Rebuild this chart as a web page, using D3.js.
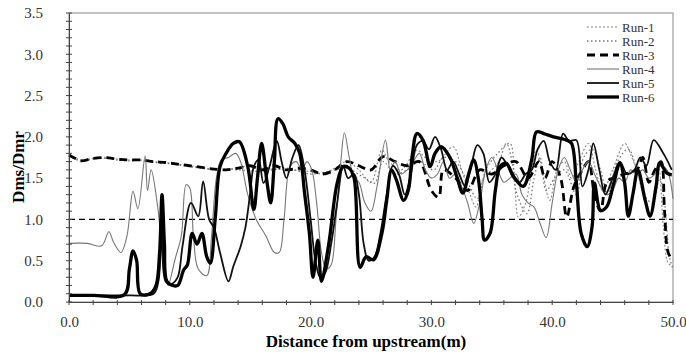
<!DOCTYPE html>
<html>
<head>
<meta charset="utf-8">
<script src="https://cdn.jsdelivr.net/npm/d3@7"></script>
<style>
  body { margin: 0; background: #fff; }
  svg { display: block; font-family: 'Liberation Serif', 'Times New Roman', serif; }
</style>
</head>
<body>
<svg id="chart" width="686" height="357"></svg>
<script>
// series: [distance (m), Dms/Dmr]
const run1 = [[0,1.77],[0.5,1.73],[1,1.71],[2,1.74],[3,1.74],[4,1.73],[5,1.72],[6,1.71],[7,1.7],[8,1.69],[9,1.67],[10,1.65],[11,1.63],[12,1.61],[13,1.6],[14,1.63],[15,1.65],[16,1.62],[18,1.6],[20,1.58],[21,1.55],[22,1.62],[23,1.7],[24,1.6],[25,1.45],[25.9,1.84],[26.5,1.7],[27.5,1.6],[28.8,1.84],[29.5,1.75],[30.5,1.7],[31.8,1.88],[32.5,1.6],[33.2,1.3],[33.7,1.15],[34.3,1.5],[35,1.6],[35.6,1.7],[36.2,1.92],[36.8,1.6],[37.2,1.03],[37.8,1.2],[38.7,1.84],[39.3,1.5],[39.8,1.23],[40.4,1.6],[41,1.7],[41.6,1.5],[42.2,1.7],[43,1.92],[43.6,1.6],[44.2,1.35],[45,1.6],[46,1.92],[46.6,1.75],[47.2,1.5],[48.1,1.03],[48.8,1.64],[49.2,0.91],[49.6,0.47],[50,0.43]]
const run2 = [[0,1.76],[0.5,1.74],[1,1.72],[2,1.73],[3,1.75],[4,1.72],[5,1.71],[6,1.72],[7,1.69],[8,1.68],[9,1.66],[10,1.64],[11,1.62],[12,1.6],[13,1.61],[14,1.6],[16,1.58],[18,1.62],[20,1.55],[22,1.6],[23,1.62],[24.5,1.5],[25.3,1.44],[26,1.7],[27,1.55],[28,1.6],[29,1.7],[30.2,1.6],[31,1.75],[32,1.7],[33,1.45],[33.8,1.25],[34.5,1.6],[35.5,1.8],[36.5,1.92],[37,1.35],[37.9,1.07],[38.5,1.5],[39,1.75],[39.5,1.35],[40.2,1.5],[41,1.6],[42,1.3],[42.6,1.75],[43.3,1.85],[44,1.6],[44.6,1.3],[45.4,1.7],[46.3,1.85],[47,1.6],[47.6,1.3],[48.3,1.2],[48.9,1.5],[49.3,1.2],[49.7,0.55],[50,0.4]]
const run3 = [[0,1.78],[0.5,1.74],[1,1.71],[2,1.74],[3,1.75],[4,1.73],[5,1.72],[6,1.72],[7,1.7],[8,1.69],[9,1.67],[10,1.65],[11,1.63],[12,1.61],[13,1.6],[14,1.62],[15,1.65],[16,1.6],[17,1.65],[18,1.6],[19,1.62],[20,1.6],[21,1.55],[22,1.6],[23,1.7],[24,1.65],[25,1.6],[26,1.76],[27,1.7],[28,1.65],[29,1.7],[30,1.35],[30.6,1.27],[31,1.6],[32,1.5],[33,1.35],[34,1.6],[35,1.55],[36,1.65],[37,1.7],[38,1.5],[38.9,1.7],[39.4,1.5],[40,1.7],[40.7,1.5],[41.2,1.03],[41.8,1.4],[42.5,1.6],[43,1.7],[43.5,1.3],[44,1.1],[44.5,1.45],[45,1.5],[46,1.55],[47,1.6],[47.5,1.75],[48,1.45],[48.5,1.6],[49,1.7],[49.3,1.1],[49.6,0.6],[50,0.5]]
const run4 = [[0,0.71],[1.5,0.71],[2.7,0.68],[3.3,0.85],[3.7,0.72],[4.3,0.6],[4.8,0.8],[5.3,1.34],[5.7,1.13],[6.3,1.77],[6.5,1.35],[6.8,1.6],[7.3,1.2],[7.6,0.8],[8.0,0.37],[8.2,0.2],[8.8,0.53],[9.3,0.8],[9.7,1.42],[10.0,1.38],[10.3,0.8],[10.7,0.4],[11.4,0.32],[11.8,0.8],[12.2,1.5],[12.6,1.72],[13.2,1.75],[13.8,1.8],[14.2,1.7],[14.8,1.3],[15.5,1.0],[16.3,0.8],[17.0,0.6],[17.4,0.6],[17.8,1.0],[18.3,1.64],[18.8,1.7],[19.3,1.6],[19.7,1.7],[20.1,1.6],[20.5,1.2],[20.9,0.6],[21.3,0.4],[21.7,0.45],[22.1,1.0],[22.5,1.7],[22.8,2.05],[23.2,1.75],[23.6,1.5],[24.0,1.45],[24.5,1.2],[25.0,1.1],[25.5,1.4],[26.2,1.96],[26.6,1.6],[27.0,1.7],[27.5,1.55],[28.0,1.6],[28.5,1.7],[29.0,1.8],[29.5,1.6],[30.0,1.5],[30.5,1.55],[31,1.7],[31.5,1.5],[32,1.55],[32.5,1.4],[33.0,1.2],[33.5,0.95],[34.0,1.2],[34.5,1.6],[35.0,1.75],[35.5,1.6],[36.0,1.45],[36.5,1.5],[37,1.55],[37.5,1.3],[38,1.2],[38.5,1.15],[39.0,0.95],[39.5,0.78],[40.0,1.2],[40.5,1.6],[41.0,1.75],[41.5,1.6],[42.0,1.45],[42.5,1.6],[43,1.7],[43.5,1.55],[44,1.4],[44.5,1.3],[45,1.35],[45.5,1.5],[46,1.45],[46.5,1.6],[47,1.55],[47.5,1.6],[48,1.5],[48.5,1.55],[49,1.65],[49.5,1.6],[50,1.25]]
const run5 = [[0,0.08],[3,0.08],[5,0.08],[7,0.1],[7.4,0.25],[7.7,1.15],[8.0,0.25],[8.5,0.22],[9.0,0.3],[9.4,0.68],[10.1,1.2],[10.7,1.04],[11.1,1.46],[11.6,1.0],[12.0,0.9],[12.5,0.6],[13.2,0.25],[13.6,0.43],[14.2,0.67],[14.6,0.9],[15.0,1.32],[15.3,1.64],[15.7,1.72],[16.1,1.44],[16.6,1.64],[17.2,1.95],[17.6,1.7],[18.0,1.5],[18.5,1.75],[19,1.9],[19.5,1.6],[20.0,1.0],[20.4,0.5],[20.8,0.3],[21.2,0.35],[21.7,0.7],[22.2,1.2],[22.7,1.65],[23.1,1.5],[23.6,1.55],[24.0,1.3],[24.4,0.7],[24.8,0.5],[25.3,0.55],[25.8,0.85],[26.3,1.3],[26.8,1.65],[27.3,1.55],[27.8,1.3],[28.3,1.55],[28.8,1.9],[29.3,1.95],[29.8,1.85],[30.3,2.0],[30.8,1.85],[31.3,1.6],[31.8,1.7],[32.3,1.55],[32.8,1.4],[33.3,1.65],[33.8,1.9],[34.3,1.8],[34.8,1.45],[35.3,1.55],[35.8,1.75],[36.3,1.65],[36.8,1.5],[37.3,1.45],[37.8,1.55],[38.3,1.6],[38.8,1.85],[39.3,1.95],[39.8,1.7],[40.3,1.6],[40.9,2.04],[41.4,1.95],[42.0,1.96],[42.5,1.4],[43.0,1.6],[43.4,1.92],[43.9,1.6],[44.4,1.3],[45.0,1.5],[45.6,1.7],[46.2,1.55],[46.8,1.6],[47.3,1.75],[47.8,1.65],[48.4,1.96],[49.2,1.8],[49.9,1.6]]
const run6 = [[0,0.08],[2,0.08],[4.6,0.09],[5.0,0.4],[5.3,0.62],[5.6,0.5],[5.9,0.1],[6.7,0.1],[7.2,0.2],[7.5,0.6],[7.7,1.3],[7.9,0.7],[8.1,0.25],[8.6,0.2],[9.0,0.2],[9.5,0.39],[9.8,0.45],[10.2,0.83],[10.6,0.7],[11.0,0.83],[11.4,0.55],[11.7,0.47],[12.1,1.0],[12.5,1.64],[13.0,1.8],[13.6,1.92],[14.1,1.94],[14.8,1.64],[15.3,1.12],[15.6,1.5],[15.95,1.92],[16.4,1.44],[16.7,1.2],[17.0,1.7],[17.3,2.22],[17.7,2.16],[18.15,2.0],[18.7,1.92],[19.1,1.8],[19.5,1.32],[19.9,0.83],[20.2,0.3],[20.6,0.75],[20.9,0.25],[21.5,0.7],[22.2,1.44],[22.7,1.64],[23.2,1.62],[23.6,1.5],[24.1,0.42],[24.6,0.55],[25.2,0.51],[25.9,0.83],[26.3,1.23],[26.7,1.6],[27.1,1.48],[27.7,1.23],[28.1,1.36],[28.4,1.76],[28.8,2.04],[29.3,1.96],[29.9,1.64],[30.3,1.8],[30.8,1.88],[31.5,1.76],[32.1,1.52],[32.6,1.32],[33.1,1.56],[33.5,1.72],[33.9,1.48],[34.2,1.0],[34.4,0.75],[34.85,0.83],[35.3,1.36],[35.7,1.64],[36.2,1.68],[36.8,1.52],[37.6,1.4],[38.3,1.72],[38.7,2.06],[39.3,2.04],[40.1,2.0],[41.2,1.96],[41.6,1.92],[42.0,1.44],[42.4,0.83],[42.9,0.67],[43.3,0.91],[43.5,1.44],[44.0,1.11],[44.5,1.15],[45.1,1.44],[45.6,1.68],[46.0,1.44],[46.3,1.04],[46.7,1.32],[47.1,1.6],[47.7,1.23],[48.1,1.04],[48.6,1.4],[48.9,1.68],[49.5,1.56],[49.9,1.54]]

const runNames = ['Run-1', 'Run-2', 'Run-3', 'Run-4', 'Run-5', 'Run-6']
const xTicks = [0, 10, 20, 30, 40, 50]
const yTicks = [0, 0.5, 1.0, 1.5, 2.0, 2.5, 3.0, 3.5]
const refValue = 1.0

// line styles for each run
const styles = [
	{ data: run1, stroke: '#888', width: 1.1, dash: '2,2' },
	{ data: run2, stroke: '#777', width: 1.3, dash: '1.5,2.5' },
	{ data: run3, stroke: '#000', width: 2.8, dash: '8,5' },
	{ data: run4, stroke: '#777', width: 1.1, dash: null },
	{ data: run5, stroke: '#111', width: 1.8, dash: null },
	{ data: run6, stroke: '#000', width: 3.3, dash: null }
]

const svg = d3.select('#chart')
const margin = { left: 69, right: 13, top: 13, bottom: 55 }
const width = 686 - margin.left - margin.right
const height = 357 - margin.top - margin.bottom

const x = d3.scaleLinear().domain([0, 50]).range([0, width])
const y = d3.scaleLinear().domain([0, 3.5]).range([height, 0])

const g = svg.append('g').attr('transform', `translate(${margin.left},${margin.top})`)

// plot frame
g.append('rect')
	.attr('width', width).attr('height', height)
	.attr('fill', 'none').attr('stroke', '#888').attr('stroke-width', 1)

// reference line at 1.0
g.append('line')
	.attr('x1', 0).attr('x2', width)
	.attr('y1', y(refValue)).attr('y2', y(refValue))
	.attr('stroke', '#000').attr('stroke-width', 1.2)
	.attr('stroke-dasharray', '6,4')

// draw runs (smoothed like the spreadsheet lines)
const line = d3.line().x(d => x(d[0])).y(d => y(d[1])).curve(d3.curveCatmullRom.alpha(0.5))
styles.forEach(s => {
	g.append('path')
		.datum(s.data)
		.attr('d', line)
		.attr('fill', 'none')
		.attr('stroke', s.stroke)
		.attr('stroke-width', s.width)
		.attr('stroke-linejoin', 'round')
		.attr('stroke-dasharray', s.dash)
})

// minor ticks
g.append('g').selectAll('line')
	.data(d3.range(0, 3.5001, 0.1))
	.enter().append('line')
	.attr('x1', -3).attr('x2', 3)
	.attr('y1', d => y(d)).attr('y2', d => y(d))
	.attr('stroke', '#444')
g.append('g').selectAll('line')
	.data(d3.range(0, 50.001, 2))
	.enter().append('line')
	.attr('x1', d => x(d)).attr('x2', d => x(d))
	.attr('y1', height - 2).attr('y2', height + 3)
	.attr('stroke', '#444')

// axes
const yAxis = g.append('g')
	.call(d3.axisLeft(y).tickValues(yTicks).tickFormat(d3.format('.1f')).tickSize(0).tickPadding(26))
yAxis.select('.domain').attr('stroke', '#444')
yAxis.selectAll('text').attr('font-size', 15).attr('fill', '#333').attr('font-family', 'Liberation Serif')

const xAxis = g.append('g')
	.attr('transform', `translate(0,${height})`)
	.call(d3.axisBottom(x).tickValues(xTicks).tickFormat(d3.format('.1f')).tickSize(0).tickPadding(14))
xAxis.select('.domain').attr('stroke', '#444')
xAxis.selectAll('text').attr('font-size', 15).attr('fill', '#333').attr('font-family', 'Liberation Serif')

// axis titles
svg.append('text')
	.attr('x', margin.left + width / 2 - 5).attr('y', 347)
	.attr('text-anchor', 'middle')
	.attr('font-size', 17).attr('font-weight', 'bold')
	.text('Distance from upstream(m)')

svg.append('text')
	.attr('transform', 'translate(24,167) rotate(-90)')
	.attr('text-anchor', 'middle')
	.attr('font-size', 17).attr('font-weight', 'bold')
	.text('Dms/Dmr')

// legend
const legend = svg.append('g').attr('transform', 'translate(587,27)')
const rows = legend.selectAll('g')
	.data(styles)
	.enter().append('g')
	.attr('transform', (d, i) => `translate(0,${i * 14})`)
rows.append('line')
	.attr('x1', 0).attr('x2', 32)
	.attr('stroke', d => d.stroke)
	.attr('stroke-width', d => d.width)
	.attr('stroke-dasharray', d => d.dash)
rows.append('text')
	.attr('x', 35).attr('dy', '0.35em')
	.attr('font-size', 13).attr('fill', '#333')
	.text((d, i) => runNames[i])
</script>
</body>
</html>
